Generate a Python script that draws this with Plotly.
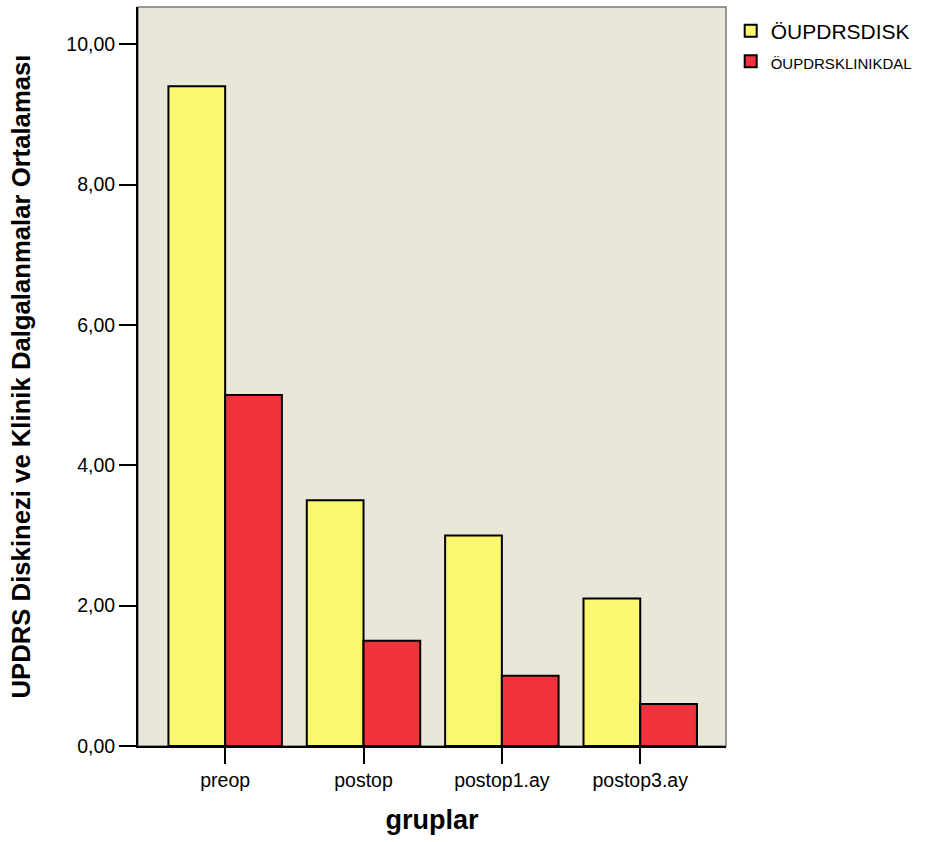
import plotly.graph_objects as go

# Group means per period
categories = ["preop", "postop", "postop1.ay", "postop3.ay"]
diskinezi = [9.4, 3.5, 3.0, 2.1]
klinik_dalgalanma = [5.0, 1.5, 1.0, 0.6]
series_names = ["ÖUPDRSDISK", "ÖUPDRSKLINIKDAL"]
y_ticks = [0, 2, 4, 6, 8, 10]
y_tick_labels = ["0,00", "2,00", "4,00", "6,00", "8,00", "10,00"]

fig = go.Figure()
fig.add_trace(go.Bar(
    x=categories, y=diskinezi, name=series_names[0],
    marker=dict(color="#FAF771", line=dict(color="black", width=2)),
))
fig.add_trace(go.Bar(
    x=categories, y=klinik_dalgalanma,
    name='<span style="font-size:15px">' + series_names[1] + '</span>',
    marker=dict(color="#F0333B", line=dict(color="black", width=2)),
))

fig.update_layout(
    width=936, height=842,
    margin=dict(l=138, r=210, t=7, b=96),
    paper_bgcolor="white",
    plot_bgcolor="#EAE6D8",
    barmode="group",
    bargap=0.18,
    bargroupgap=0,
    font=dict(family="Liberation Sans, Arial, sans-serif", color="black"),
    showlegend=True,
    legend=dict(
        x=1.008, y=0.995, xanchor="left", yanchor="top",
        font=dict(size=21, family="Liberation Sans, Arial, sans-serif"),
        bgcolor="rgba(0,0,0,0)", tracegroupgap=0, itemsizing="constant",
    ),
    xaxis=dict(
        range=[-0.63, 3.62],
        showline=True, linecolor="black", linewidth=2,
        ticks="outside", ticklen=16, tickwidth=2, tickcolor="black",
        tickfont=dict(size=19.5),
        showgrid=False, zeroline=False,
        title=dict(text="<b>gruplar</b>", font=dict(size=27), standoff=20),
    ),
    yaxis=dict(
        range=[0, 10.53],
        tickvals=y_ticks, ticktext=y_tick_labels,
        showline=True, linecolor="black", linewidth=2,
        ticks="outside", ticklen=17, tickwidth=2, tickcolor="black",
        tickfont=dict(size=19.5),
        showgrid=False, zeroline=False,
        title=dict(
            text="<b>UPDRS Diskinezi ve Klinik Dalgalanmalar Ortalaması</b>",
            font=dict(size=25.7),
            standoff=28,
        ),
    ),
    shapes=[dict(
        type="rect", xref="paper", yref="paper", x0=0, x1=1, y0=0, y1=1,
        line=dict(color="#7A7A7A", width=1.5), layer="below",
    )],
)

fig.write_html("out.html")
